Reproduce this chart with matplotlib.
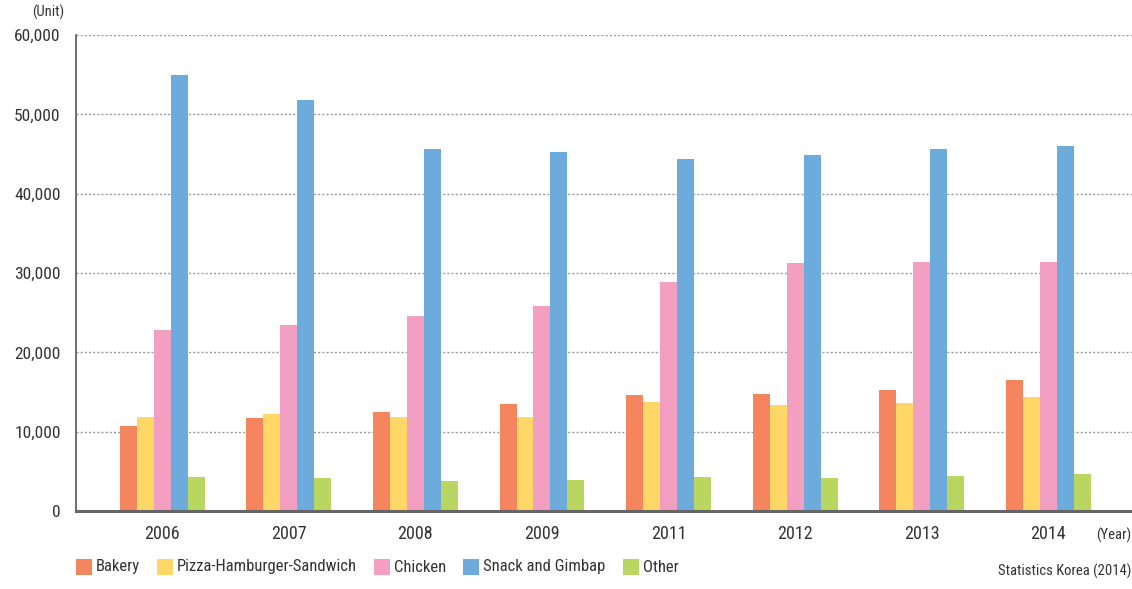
import matplotlib
matplotlib.use("Agg")
import matplotlib.pyplot as plt
from matplotlib.patches import Rectangle
from matplotlib import font_manager
import numpy as np

# ==========================================
# DATA
# ==========================================
years = ["2006", "2007", "2008", "2009", "2011", "2012", "2013", "2014"]
series_names = ["Bakery", "Pizza-Hamburger-Sandwich", "Chicken", "Snack and Gimbap", "Other"]

bakery = [10670, 11670, 12430, 13430, 14570, 14690, 15190, 16450]
pizza = [11800, 12170, 11800, 11800, 13690, 13310, 13560, 14310]
chicken = [22870, 23500, 24630, 25890, 28900, 31290, 31420, 31420]
snack = [54940, 51800, 45630, 45250, 44380, 44880, 45630, 46000]
other = [4250, 4130, 3750, 3900, 4250, 4130, 4380, 4630]

y_ticks = [0, 10000, 20000, 30000, 40000, 50000, 60000]

colors = ["#f4855f", "#fed766", "#f39fc1", "#6cabdb", "#b8d660"]

# ==========================================
# FONT: pick a narrow face if one is around
# ==========================================
installed = {f.name for f in font_manager.fontManager.ttflist}
FONT = "Roboto"
for cand in ["Roboto Condensed", "Liberation Sans Narrow", "DejaVu Sans Condensed", "Roboto"]:
    if cand in installed:
        FONT = cand
        break
plt.rcParams["font.family"] = [FONT, "DejaVu Sans"]
narrow = FONT != "Roboto"
SZ = 12 if narrow else 11
SZ_S = 10.5 if narrow else 9.5

W, H = 1132, 589
fig = plt.figure(figsize=(W / 100, H / 100), dpi=100)
ax = fig.add_axes([76 / W, 1 - 511 / H, (W - 76) / W, (511 - 35) / H])

x = np.arange(len(years))
bar_w = 0.134
all_series = [bakery, pizza, chicken, snack, other]
for i, (vals, col) in enumerate(zip(all_series, colors)):
    ax.bar(x + (i - 2) * bar_w, vals, width=bar_w, color=col, zorder=3)

ax.set_xlim(-0.68, 7.66)
ax.set_ylim(0, 60000)
ax.set_yticks(y_ticks)
ax.set_yticklabels([f"{v:,}" for v in y_ticks])
ax.set_xticks(x)
ax.set_xticklabels(years)

ax.tick_params(axis="both", length=0, labelcolor="#333333")
ax.tick_params(axis="y", pad=11, labelsize=SZ + 0.5)
ax.tick_params(axis="x", pad=10, labelsize=SZ + 1)

ax.grid(axis="y", linestyle=(0, (1.5, 1.5)), color="#999999", linewidth=1, zorder=0)
ax.set_axisbelow(True)

for s in ["top", "right"]:
    ax.spines[s].set_visible(False)
ax.spines["left"].set_color("#555555")
ax.spines["left"].set_linewidth(1.2)
ax.spines["bottom"].set_color("#666666")
ax.spines["bottom"].set_linewidth(2.2)
ax.spines["bottom"].set_zorder(4)

# unit labels
fig.text(64 / W, 1 - 12 / H, "(Unit)", ha="right", va="center", fontsize=SZ_S, color="#333333")
fig.text(1131 / W, 1 - 535 / H, "(Year)", ha="right", va="center", fontsize=SZ_S, color="#333333")
fig.text(1131 / W, 1 - 571 / H, "Statistics Korea (2014)", ha="right", va="center",
         fontsize=SZ_S, color="#333333")

# legend, laid out left to right
fig.canvas.draw()
renderer = fig.canvas.get_renderer()
cur = 76
ly = 567
for name, col in zip(series_names, colors):
    fig.patches.append(Rectangle((cur / W, 1 - (ly + 8) / H), 16 / W, 16 / H,
                                 transform=fig.transFigure, facecolor=col, edgecolor="none"))
    t = fig.text((cur + 20) / W, 1 - ly / H, name, ha="left", va="center",
                 fontsize=SZ, color="#333333")
    tw = t.get_window_extent(renderer).width
    cur = cur + 20 + tw + 17

fig.savefig("out.png", dpi=100)
